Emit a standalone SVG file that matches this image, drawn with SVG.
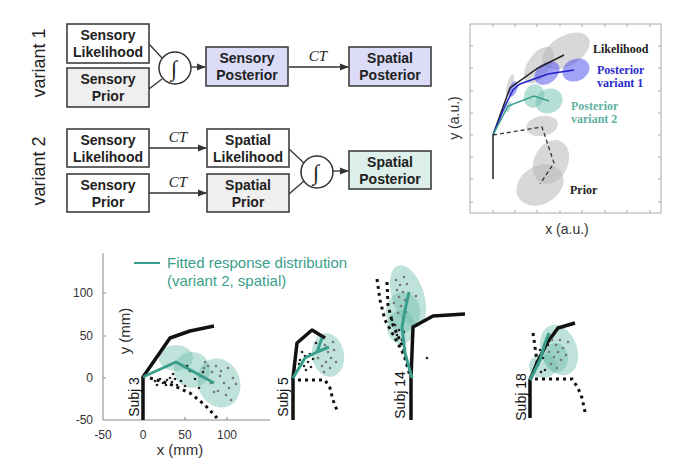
<svg xmlns="http://www.w3.org/2000/svg" width="680" height="469" viewBox="0 0 680 469">
<defs>
<style>
.box{stroke:#333;stroke-width:1.5}
.bt{font-family:"Liberation Sans",Arial,sans-serif;font-weight:bold;font-size:14px;fill:#222;text-anchor:middle}
.ct{font-family:"Liberation Serif","Times New Roman",serif;font-style:italic;font-size:15px;fill:#222;text-anchor:middle}
.vl{font-family:"Liberation Sans",Arial,sans-serif;font-size:18px;fill:#222;text-anchor:middle}
.ln{stroke:#333;stroke-width:1.3;fill:none}
.int{fill:#fff;stroke:#333;stroke-width:1.5}
.ig{font-family:"Liberation Serif","Times New Roman",serif;font-style:italic;font-size:22px;fill:#222;text-anchor:middle}
.st{font-family:"Liberation Serif","Times New Roman",serif;font-weight:bold;font-size:12px}
.ax{font-family:"Liberation Sans",Arial,sans-serif;font-size:13px;fill:#333;text-anchor:middle}
.tk{font-family:"Liberation Sans",Arial,sans-serif;font-size:12px;fill:#333}
.gray{fill:#b8b8b8;opacity:0.55}
.blue{fill:#5555ee;opacity:0.55}
.tea{fill:#6cc0ae;opacity:0.5}
.tf{fill:#72bfae;opacity:0.45}
.blk{stroke:#111;stroke-width:3.5;fill:none;stroke-linejoin:round}
.dot{stroke:#111;stroke-width:3;fill:none;stroke-dasharray:3 4}
.tl{stroke:#3a9e8c;stroke-width:3;fill:none;stroke-linejoin:round}
.sj{font-family:"Liberation Sans",Arial,sans-serif;font-size:14px;fill:#111;text-anchor:middle}
.gp{fill:#777}
.bp{fill:#222}
</style>
<marker id="ar" viewBox="0 0 10 10" refX="9" refY="5" markerWidth="7" markerHeight="7" orient="auto"><path d="M0,1 L10,5 L0,9 z" fill="#333"/></marker>
</defs>
<rect width="680" height="469" fill="#fff"/>

<!-- variant labels -->
<text class="vl" transform="translate(45,63) rotate(-90)">variant 1</text>
<text class="vl" transform="translate(45,171) rotate(-90)">variant 2</text>

<!-- connectors -->
<g id="connectors">
<line class="ln" x1="149" y1="44" x2="162" y2="58"/>
<line class="ln" x1="149" y1="89" x2="162" y2="79"/>
<line class="ln" x1="191" y1="67" x2="205" y2="67" marker-end="url(#ar)"/>
<line class="ln" x1="289" y1="67" x2="348" y2="67" marker-end="url(#ar)"/>
<line class="ln" x1="149" y1="148" x2="206" y2="148" marker-end="url(#ar)"/>
<line class="ln" x1="149" y1="193" x2="206" y2="193" marker-end="url(#ar)"/>
<line class="ln" x1="289" y1="149" x2="304" y2="163"/>
<line class="ln" x1="289" y1="194" x2="304" y2="181"/>
<line class="ln" x1="333" y1="171" x2="348" y2="171" marker-end="url(#ar)"/>
<text class="ct" x="318" y="61">CT</text>
<text class="ct" x="178" y="142">CT</text>
<text class="ct" x="178" y="187">CT</text>
</g>

<g id="v1-sens-lik"><rect class="box" x="67" y="24" width="82" height="39" fill="#fff"/><text class="bt" x="108" y="40">Sensory</text><text class="bt" x="108" y="57">Likelihood</text></g>
<g id="v1-sens-prior"><rect class="box" x="67" y="68" width="82" height="39" fill="#efefef"/><text class="bt" x="108" y="84">Sensory</text><text class="bt" x="108" y="101">Prior</text></g>
<g id="v1-int"><circle class="int" cx="175" cy="68" r="16"/><text class="ig" x="174" y="76">∫</text></g>
<g id="v1-sens-post"><rect class="box" x="206" y="47" width="82" height="39" fill="#dcdcf8"/><text class="bt" x="247" y="63">Sensory</text><text class="bt" x="247" y="80">Posterior</text></g>
<g id="v1-spat-post"><rect class="box" x="349" y="47" width="82" height="39" fill="#dcdcf8"/><text class="bt" x="390" y="63">Spatial</text><text class="bt" x="390" y="80">Posterior</text></g>

<g id="v2-sens-lik"><rect class="box" x="67" y="129" width="82" height="38" fill="#fff"/><text class="bt" x="108" y="145">Sensory</text><text class="bt" x="108" y="162">Likelihood</text></g>
<g id="v2-sens-prior"><rect class="box" x="67" y="174" width="82" height="38" fill="#fff"/><text class="bt" x="108" y="190">Sensory</text><text class="bt" x="108" y="207">Prior</text></g>
<g id="v2-spat-lik"><rect class="box" x="207" y="129" width="82" height="38" fill="#fff"/><text class="bt" x="248" y="145">Spatial</text><text class="bt" x="248" y="162">Likelihood</text></g>
<g id="v2-spat-prior"><rect class="box" x="207" y="174" width="82" height="38" fill="#efefef"/><text class="bt" x="248" y="190">Spatial</text><text class="bt" x="248" y="207">Prior</text></g>
<g id="v2-int"><circle class="int" cx="317" cy="172" r="16"/><text class="ig" x="316" y="180">∫</text></g>
<g id="v2-spat-post"><rect class="box" x="349" y="151" width="82" height="38" fill="#dcefea"/><text class="bt" x="390" y="167">Spatial</text><text class="bt" x="390" y="184">Posterior</text></g>

<!-- top right schematic plot -->
<g id="schematic">
<rect x="470" y="24" width="191" height="189" fill="#fff" stroke="#aaa" stroke-width="1"/>
<g stroke="#aaa" stroke-width="1">
<path d="M493,213v-3M515,213v-3M537,213v-3M560,213v-3M582,213v-3M605,213v-3M627,213v-3M650,213v-3"/>
<path d="M493,24v3M515,24v3M537,24v3M560,24v3M582,24v3M605,24v3M627,24v3M650,24v3"/>
<path d="M470,46h3M470,68h3M470,91h3M470,113h3M470,135h3M470,157h3M470,179h3M470,202h3"/>
<path d="M661,46h-3M661,68h-3M661,91h-3M661,113h-3M661,135h-3M661,157h-3M661,179h-3M661,202h-3"/>
</g>
<ellipse class="gray" cx="510" cy="85" rx="3" ry="11" transform="rotate(15 510 85)"/>
<ellipse class="gray" cx="539" cy="65" rx="21" ry="11" transform="rotate(-55 539 65)"/>
<ellipse class="gray" cx="566" cy="51" rx="26" ry="15" transform="rotate(-30 566 51)"/>
<ellipse class="blue" cx="513" cy="89" rx="4" ry="8" transform="rotate(20 513 89)"/>
<ellipse class="blue" cx="547" cy="73" rx="14" ry="10" transform="rotate(-40 547 73)"/>
<ellipse class="blue" cx="576" cy="70" rx="14" ry="11" transform="rotate(-25 576 70)"/>
<ellipse class="tea" cx="508" cy="107" rx="3" ry="6" transform="rotate(25 508 107)"/>
<ellipse class="tea" cx="534" cy="96" rx="10" ry="12" transform="rotate(20 534 96)"/>
<ellipse class="tea" cx="549" cy="101" rx="14" ry="12" transform="rotate(-30 549 101)"/>
<ellipse class="gray" cx="542" cy="126" rx="16" ry="10" transform="rotate(-10 542 126)"/>
<ellipse class="gray" cx="551" cy="162" rx="17" ry="23" transform="rotate(25 551 162)"/>
<ellipse class="gray" cx="540" cy="185" rx="25" ry="19" transform="rotate(-30 540 185)"/>
<polyline points="493,179 493,135 503,107 510,88 538,68 564,55" fill="none" stroke="#222" stroke-width="1.5"/>
<polyline points="493,135 505,106 513,90 520,84 548,74 574,70" fill="none" stroke="#2222cc" stroke-width="1.5"/>
<polyline points="493,135 508,106 534,96 549,101" fill="none" stroke="#3a9e8c" stroke-width="1.5"/>
<polyline points="493,135 542,127 554,163 540,184" fill="none" stroke="#333" stroke-width="1.3" stroke-dasharray="4 3"/>
<text class="st" x="593" y="53" fill="#222">Likelihood</text>
<text class="st" x="597" y="74" fill="#2a2acc">Posterior</text>
<text class="st" x="597" y="87" fill="#2a2acc">variant 1</text>
<text class="st" x="571" y="110" fill="#5fb0a0">Posterior</text>
<text class="st" x="571" y="123" fill="#5fb0a0">variant 2</text>
<text class="st" x="570" y="194" fill="#222">Prior</text>
<text class="ax" transform="translate(459,118) rotate(-90)" style="font-size:14px">y (a.u.)</text>
<text class="ax" x="567" y="234" style="font-size:14px">x (a.u.)</text>
</g>

<!-- bottom data plot -->
<g id="data-axes">
<path d="M103,253V420H270" fill="none" stroke="#888" stroke-width="1"/>
<path d="M103,293h3M103,336h3M103,378h3M143,420v-3M185,420v-3M227,420v-3" stroke="#888" stroke-width="1"/>
<text class="tk" x="93" y="297" text-anchor="end">100</text>
<text class="tk" x="93" y="340" text-anchor="end">50</text>
<text class="tk" x="93" y="382" text-anchor="end">0</text>
<text class="tk" x="93" y="424" text-anchor="end">-50</text>
<text class="tk" x="103" y="439" text-anchor="middle">-50</text>
<text class="tk" x="143" y="439" text-anchor="middle">0</text>
<text class="tk" x="185" y="439" text-anchor="middle">50</text>
<text class="tk" x="227" y="439" text-anchor="middle">100</text>
<text class="ax" x="180" y="455" style="font-size:15px">x (mm)</text>
<text class="ax" transform="translate(130,331) rotate(-90)" style="font-size:15px">y (mm)</text>
<line x1="134" y1="263" x2="160" y2="263" stroke="#3a9e8c" stroke-width="2"/>
<text x="167" y="268" font-family="Liberation Sans, Arial, sans-serif" font-size="15" fill="#3a9e8c">Fitted response distribution</text>
<text x="167" y="286" font-family="Liberation Sans, Arial, sans-serif" font-size="15" fill="#3a9e8c">(variant 2, spatial)</text>
</g>

<g id="subj3">
<ellipse class="tf" cx="176" cy="358" rx="17" ry="13"/>
<ellipse class="tf" cx="192" cy="370" rx="18" ry="18"/>
<ellipse class="tf" cx="219" cy="383" rx="21" ry="25" transform="rotate(-20 219 383)"/>
<polyline class="blk" points="143,420 143,377 170,338 190,331 214,326"/>
<polyline class="dot" points="150,378 170,384 190,393 205,405 217,418"/>
<g class="bp"><circle cx="155" cy="381" r="1.3"/><circle cx="160" cy="379" r="1.3"/><circle cx="163" cy="383" r="1.3"/><circle cx="167" cy="380" r="1.3"/><circle cx="170" cy="378" r="1.3"/><circle cx="172" cy="382" r="1.3"/><circle cx="175" cy="379" r="1.3"/><circle cx="166" cy="385" r="1.3"/><circle cx="177" cy="385" r="1.3"/><circle cx="181" cy="381" r="1.3"/><circle cx="185" cy="386" r="1.3"/><circle cx="190" cy="371" r="1.3"/><circle cx="195" cy="379" r="1.3"/><circle cx="199" cy="388" r="1.3"/><circle cx="187" cy="366" r="1.3"/><circle cx="203" cy="372" r="1.3"/><circle cx="157" cy="385" r="1.3"/><circle cx="173" cy="374" r="1.3"/></g>
<g class="gp"><circle cx="205" cy="362" r="1.3"/><circle cx="208" cy="366" r="1.3"/><circle cx="204" cy="368" r="1.3"/><circle cx="212" cy="372" r="1.3"/><circle cx="216" cy="366" r="1.3"/><circle cx="220" cy="376" r="1.3"/><circle cx="224" cy="383" r="1.3"/><circle cx="229" cy="388" r="1.3"/><circle cx="233" cy="378" r="1.3"/><circle cx="236" cy="384" r="1.3"/><circle cx="218" cy="391" r="1.3"/><circle cx="226" cy="395" r="1.3"/><circle cx="211" cy="383" r="1.3"/><circle cx="221" cy="371" r="1.3"/><circle cx="228" cy="368" r="1.3"/><circle cx="200" cy="376" r="1.3"/><circle cx="214" cy="392" r="1.3"/><circle cx="231" cy="400" r="1.3"/></g>
<polyline class="tl" points="143,377 176,362 214,383"/>
<text class="sj" transform="translate(139,397) rotate(-90)">Subj 3</text>
</g>

<g id="subj5">
<ellipse class="tf" cx="328" cy="355" rx="16" ry="22" transform="rotate(-10 328 355)"/>
<polyline class="blk" points="293,420 293,378 297,343 312,330 325,338"/>
<polyline class="dot" points="298,380 325,380 330,388 333,400 338,413"/>
<g class="bp"><circle cx="302" cy="352" r="1.3"/><circle cx="305" cy="356" r="1.3"/><circle cx="300" cy="360" r="1.3"/><circle cx="308" cy="362" r="1.3"/><circle cx="304" cy="366" r="1.3"/><circle cx="310" cy="354" r="1.3"/><circle cx="313" cy="359" r="1.3"/><circle cx="299" cy="364" r="1.3"/><circle cx="316" cy="343" r="1.3"/><circle cx="322" cy="336" r="1.3"/><circle cx="306" cy="370" r="1.3"/><circle cx="311" cy="367" r="1.3"/></g>
<g class="gp"><circle cx="320" cy="350" r="1.3"/><circle cx="325" cy="345" r="1.3"/><circle cx="328" cy="352" r="1.3"/><circle cx="331" cy="358" r="1.3"/><circle cx="334" cy="350" r="1.3"/><circle cx="326" cy="362" r="1.3"/><circle cx="322" cy="366" r="1.3"/><circle cx="330" cy="368" r="1.3"/><circle cx="336" cy="362" r="1.3"/><circle cx="318" cy="358" r="1.3"/><circle cx="333" cy="342" r="1.3"/><circle cx="324" cy="372" r="1.3"/></g>
<polyline class="tl" points="293,378 305,358 317,352 329,347"/>
<polyline class="tl" points="317,352 322,338"/>
<text class="sj" transform="translate(288,397) rotate(-90)">Subj 5</text>
</g>

<g id="subj14">
<ellipse class="tf" cx="408" cy="296" rx="16" ry="32" transform="rotate(-18 408 296)"/>
<ellipse class="tf" cx="403" cy="312" rx="17" ry="20"/>
<ellipse class="tf" cx="401" cy="327" rx="14" ry="17"/>
<polyline class="blk" points="411,420 411,378 413,327 433,316 465,314"/>
<polyline class="dot" points="377,279 380,300 385,320 395,338 404,355 410,376"/>
<polyline class="dot" points="387,282 388,305 393,325 402,345 408,365"/>
<g class="gp"><circle cx="396" cy="280" r="1.3"/><circle cx="400" cy="285" r="1.3"/><circle cx="397" cy="290" r="1.3"/><circle cx="403" cy="292" r="1.3"/><circle cx="399" cy="297" r="1.3"/><circle cx="405" cy="300" r="1.3"/><circle cx="394" cy="303" r="1.3"/><circle cx="401" cy="306" r="1.3"/><circle cx="407" cy="284" r="1.3"/><circle cx="404" cy="277" r="1.3"/><circle cx="416" cy="296" r="1.3"/><circle cx="398" cy="313" r="1.3"/><circle cx="403" cy="318" r="1.3"/><circle cx="406" cy="312" r="1.3"/></g>
<g class="bp"><circle cx="395" cy="325" r="1.3"/><circle cx="399" cy="330" r="1.3"/><circle cx="397" cy="335" r="1.3"/><circle cx="402" cy="340" r="1.3"/><circle cx="404" cy="332" r="1.3"/><circle cx="427" cy="358" r="1.3"/><circle cx="392" cy="320" r="1.3"/></g>
<polyline class="tl" points="412,378 405,353 402,327 405,310 409,292"/>
<text class="sj" transform="translate(405,395) rotate(-90)">Subj 14</text>
</g>

<g id="subj18">
<ellipse class="tf" cx="559" cy="350" rx="18" ry="26" transform="rotate(-20 559 350)"/>
<ellipse class="tf" cx="543" cy="366" rx="14" ry="12"/>
<ellipse class="tf" cx="556" cy="358" rx="12" ry="15"/>
<polyline class="blk" points="530,418 530,380 537,363 547,343 558,328 575,323"/>
<polyline class="dot" points="535,379 572,379 578,388 582,398 585,412"/>
<polyline class="dot" points="533,333 535,347 537,362"/>
<g class="bp"><circle cx="540" cy="350" r="1.3"/><circle cx="543" cy="358" r="1.3"/><circle cx="538" cy="365" r="1.3"/><circle cx="545" cy="370" r="1.3"/><circle cx="541" cy="372" r="1.3"/><circle cx="548" cy="345" r="1.3"/></g>
<g class="gp"><circle cx="552" cy="340" r="1.3"/><circle cx="556" cy="345" r="1.3"/><circle cx="560" cy="340" r="1.3"/><circle cx="563" cy="348" r="1.3"/><circle cx="558" cy="352" r="1.3"/><circle cx="554" cy="357" r="1.3"/><circle cx="561" cy="360" r="1.3"/><circle cx="566" cy="355" r="1.3"/><circle cx="551" cy="364" r="1.3"/><circle cx="557" cy="368" r="1.3"/><circle cx="568" cy="342" r="1.3"/><circle cx="549" cy="352" r="1.3"/></g>
<polyline class="tl" points="530,380 540,360 545,343 549,333"/>
<text class="sj" transform="translate(526,397) rotate(-90)">Subj 18</text>
</g>
</svg>
